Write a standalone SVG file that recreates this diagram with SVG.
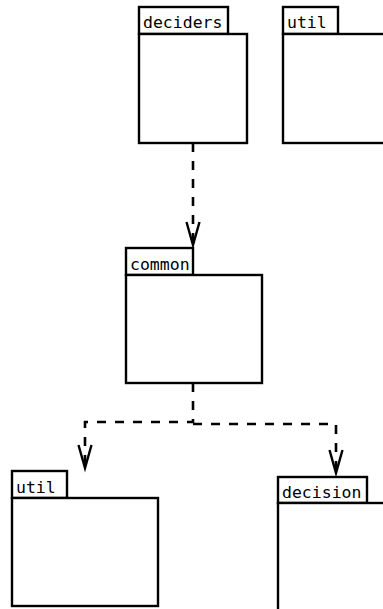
<svg xmlns="http://www.w3.org/2000/svg" width="383" height="609" viewBox="0 0 383 609">
  <style>
    .pkg rect { fill: #ffffff; stroke: #000000; stroke-width: 2.4; }
    .pkg text { font-family: "DejaVu Sans Mono", "Liberation Mono", monospace; font-size: 16.5px; fill: #000000; }
    .dep { fill: none; stroke: #000000; stroke-width: 2.6; stroke-dasharray: 9,9; }
    .head { fill: none; stroke: #000000; stroke-width: 2.4; stroke-linejoin: miter; }
  </style>
  <rect x="0" y="0" width="383" height="609" fill="#ffffff"/>

  <g id="deciders" class="pkg">
    <rect x="139" y="7" width="89" height="27"/>
    <rect x="139" y="34" width="108" height="109"/>
    <text x="143" y="28">deciders</text>
  </g>

  <g id="util-top" class="pkg">
    <rect x="283" y="7" width="55" height="27"/>
    <rect x="283" y="34" width="130" height="109"/>
    <text x="287" y="28">util</text>
  </g>

  <g id="common" class="pkg">
    <rect x="126" y="248" width="67" height="27"/>
    <rect x="126" y="275" width="136" height="108"/>
    <text x="130" y="270">common</text>
  </g>

  <g id="util" class="pkg">
    <rect x="12" y="471" width="55" height="27"/>
    <rect x="12" y="498" width="146" height="108"/>
    <text x="16" y="493">util</text>
  </g>

  <g id="decision" class="pkg">
    <rect x="278" y="477" width="89" height="26"/>
    <rect x="278" y="503" width="130" height="130"/>
    <text x="282" y="498">decision</text>
  </g>

  <g id="connectors">
    <path class="dep" d="M193,143 L193,245"/>
    <path class="head" d="M186.5,222 L193,245 L199.5,222"/>

    <path class="dep" d="M193,383 L193,422 L85,422 L85,468"/>
    <path class="head" d="M78.5,445 L85,468 L91.5,445"/>

    <path class="dep" d="M193,424 L336,424 L336,473"/>
    <path class="head" d="M329.5,450 L336,473 L342.5,450"/>
  </g>
</svg>
